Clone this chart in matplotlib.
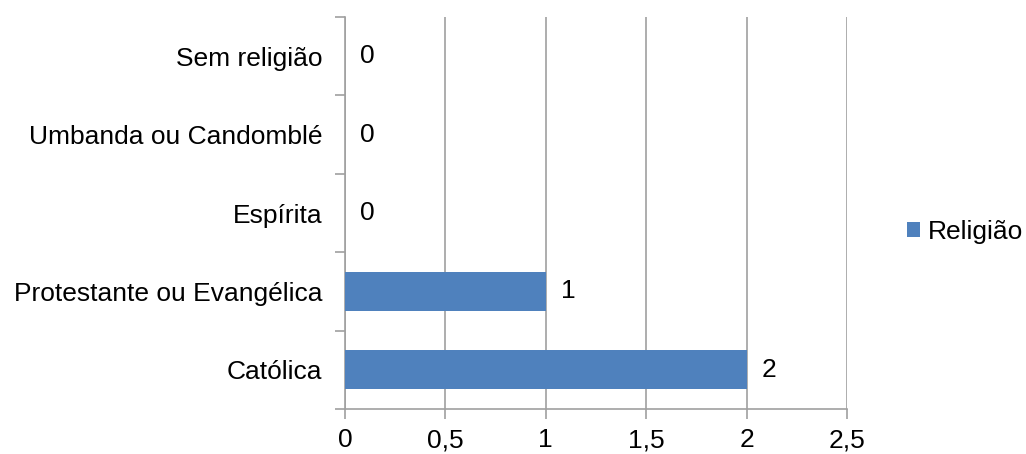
import matplotlib
matplotlib.use('Agg')
import matplotlib.pyplot as plt
import numpy as np

plt.rcParams['font.family'] = ['Liberation Sans', 'DejaVu Sans']

# data
categorias = ['Católica', 'Protestante ou Evangélica', 'Espírita',
              'Umbanda ou Candomblé', 'Sem religião']
valores = [2, 1, 0, 0, 0]
serie = 'Religião'
xticks = [0, 0.5, 1, 1.5, 2, 2.5]
xlabels = ['0', '0,5', '1', '1,5', '2', '2,5']

cor = '#4F81BD'
cinza = '#A0A0A0'
fs = 19

fig = plt.figure(figsize=(10.26, 4.54), dpi=100)
ax = fig.add_axes([345/1026, 1 - 409/454, (847-345)/1026, (409-17)/454])

y = np.arange(len(categorias))
ax.barh(y, valores, height=0.5, color=cor, label=serie, zorder=3)

# rotulos de dados, deslocados para a direita
desloc = matplotlib.transforms.ScaledTranslation(15/100, 0, fig.dpi_scale_trans)
for yi, v in zip(y, valores):
    ax.text(v, yi, str(v), ha='left', va='center', fontsize=fs,
            transform=ax.transData + desloc, zorder=4)

ax.set_xlim(0, 2.5)
ax.set_ylim(-0.5, len(categorias) - 0.5)
ax.set_xticks(xticks)
ax.set_xticklabels(xlabels, fontsize=fs)
ax.set_yticks(y)
ax.set_yticklabels(categorias, fontsize=fs)
ax.set_yticks(np.arange(-0.5, len(categorias), 1), minor=True)

ax.tick_params(axis='y', which='major', length=0, pad=16.5)
ax.tick_params(axis='y', which='minor', length=7, color=cinza, width=1.2)
ax.tick_params(axis='x', which='major', length=7, color=cinza, width=1.2, pad=7)

ax.grid(axis='x', color=cinza, linewidth=1.2, zorder=0)
for s in ['top', 'right']:
    ax.spines[s].set_visible(False)
for s in ['left', 'bottom']:
    ax.spines[s].set_color(cinza)
    ax.spines[s].set_linewidth(1.2)

leg = fig.legend(loc='center left', bbox_to_anchor=(896/1026, 1 - 232/454),
                 frameon=False, fontsize=fs, handlelength=0.5, handleheight=0.5,
                 handletextpad=0.3, borderaxespad=0)

fig.savefig('out.png', dpi=100)
